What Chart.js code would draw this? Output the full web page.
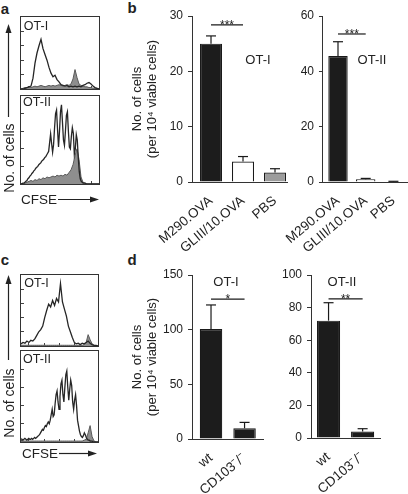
<!DOCTYPE html>
<html><head><meta charset="utf-8">
<script src="https://cdn.jsdelivr.net/npm/chart.js@4.4.1/dist/chart.umd.min.js"></script>
<style>
html,body{margin:0;padding:0;background:#fff;}
body{width:408px;height:494px;position:relative;overflow:hidden;font-family:"Liberation Sans",Arial,Helvetica,sans-serif;color:#222;}
.box{position:absolute;border:1px solid #333;box-sizing:border-box;}
.box canvas{position:absolute;left:0;top:0;}
.lbl{position:absolute;transform:translate(-50%,-50%);white-space:nowrap;line-height:1;}
.rot{position:absolute;transform:translate(-50%,-50%) rotate(-90deg);white-space:nowrap;line-height:1;}
.cv{position:absolute;}
svg{position:absolute;left:0;top:0;}
</style></head><body>

<div class="lbl" style="left:5px;top:8px;font-weight:bold;font-size:15px;">a</div>
<div class="lbl" style="left:132px;top:7px;font-weight:bold;font-size:15px;">b</div>
<div class="lbl" style="left:5px;top:259px;font-weight:bold;font-size:15px;">c</div>
<div class="lbl" style="left:132px;top:259px;font-weight:bold;font-size:15px;">d</div>

<div class="box" style="left:20px;top:16px;width:80px;height:74px;"><canvas id="aTop" width="78" height="72"></canvas></div>
<div class="box" style="left:20px;top:95px;width:80px;height:90px;"><canvas id="aBot" width="78" height="88"></canvas></div>
<div class="box" style="left:20px;top:274px;width:79px;height:73px;"><canvas id="cTop" width="77" height="71"></canvas></div>
<div class="box" style="left:20px;top:350px;width:79px;height:93px;"><canvas id="cBot" width="77" height="91"></canvas></div>

<div class="lbl" style="left:36px;top:25.5px;font-size:12.5px;">OT-I</div>
<div class="lbl" style="left:37px;top:102px;font-size:12.5px;">OT-II</div>
<div class="lbl" style="left:36.5px;top:282.5px;font-size:12.5px;">OT-I</div>
<div class="lbl" style="left:37px;top:358.5px;font-size:12.5px;">OT-II</div>

<div class="rot" style="left:8.5px;top:158px;font-size:14px;">No. of cells</div>
<div class="rot" style="left:8.5px;top:403px;font-size:14px;">No. of cells</div>
<div class="lbl" style="left:39px;top:199.5px;font-size:13.5px;">CFSE</div>
<div class="lbl" style="left:40px;top:453.5px;font-size:13.5px;">CFSE</div>

<svg width="408" height="494">
  <g stroke="#222" stroke-width="1.2" fill="#222">
    <line x1="8.5" y1="32" x2="8.5" y2="117"/>
    <polygon points="8.5,24 5.5,33 11.5,33" stroke="none"/>
    <line x1="58" y1="199.5" x2="91" y2="199.5"/>
    <polygon points="99,199.5 90,196.5 90,202.5" stroke="none"/>
    <line x1="8.5" y1="283" x2="8.5" y2="360"/>
    <polygon points="8.5,275 5.5,284 11.5,284" stroke="none"/>
    <line x1="59" y1="453.5" x2="89" y2="453.5"/>
    <polygon points="97,453.5 88,450.5 88,456.5" stroke="none"/>
  </g>
</svg>

<canvas class="cv" id="b1" width="163" height="258" style="left:127px;top:0px;"></canvas>
<canvas class="cv" id="b2" width="128" height="258" style="left:280px;top:0px;"></canvas>
<canvas class="cv" id="d1" width="150" height="232" style="left:127px;top:262px;"></canvas>
<canvas class="cv" id="d2" width="130" height="232" style="left:278px;top:262px;"></canvas>

<div class="lbl" style="left:258px;top:59px;font-size:13px;">OT-I</div>
<div class="lbl" style="left:372px;top:59px;font-size:13px;">OT-II</div>
<div class="lbl" style="left:226px;top:281px;font-size:13px;">OT-I</div>
<div class="lbl" style="left:342px;top:281px;font-size:13px;">OT-II</div>

<script>
// ---------- data ----------
// panel a/c histograms (fraction of box height), open = stimulated, shaded = control
const aOT1Open = [0,0,0.01,0.02,0.03,0.04,0.15,0.36,0.50,0.60,0.69,0.56,0.48,0.40,0.30,0.22,0.17,0.19,0.13,0.10,0.06,0.05,0.04,0.05,0.03,0.04,0.03,0.04,0.03,0.04,0.03,0.05,0.06,0.08,0.09,0.07,0.04,0.02,0.01,0];
const aOT1Shaded = [0,0.01,0.02,0.02,0.03,0.02,0.03,0.04,0.03,0.04,0.05,0.04,0.03,0.04,0.05,0.04,0.05,0.04,0.05,0.06,0.05,0.04,0.05,0.06,0.05,0.07,0.14,0.27,0.16,0.07,0.05,0.04,0.03,0.03,0.02,0.02,0.01,0.01,0.01,0];
const aOT2Open = [0,0,0.01,0.01,0.02,0.03,0.04,0.06,0.07,0.09,
  0.10,0.12,0.13,0.15,0.16,0.18,0.19,0.20,0.22,0.23,
  0.24,0.26,0.27,0.28,0.30,0.31,0.33,0.35,0.37,0.47,
  0.57,0.46,0.36,0.45,0.64,0.80,0.84,0.62,0.42,0.60,
  0.82,0.90,0.70,0.50,0.44,0.60,0.78,0.82,0.60,0.42,
  0.40,0.54,0.64,0.58,0.34,0.40,0.56,0.50,0.30,0.14,
  0.06,0.03,0.02,0.01,0.01,0.01,0,0,0,0,
  0,0,0,0,0,0,0,0,0,0];
const aOT2Shaded = [0,0,0.01,0.02,0.03,0.04,0.03,0.05,0.04,0.06,0.05,0.07,0.06,0.08,0.07,0.08,0.09,0.08,0.10,0.09,0.10,0.09,0.11,0.10,0.13,0.16,0.22,0.32,0.40,0.28,0.08,0.02,0.01,0,0,0,0,0,0,0];
const cOT1Open = [0.03,0.05,0.04,0.07,0.05,0.08,0.07,0.10,0.15,0.20,0.23,0.28,0.40,0.50,0.59,0.55,0.64,0.57,0.67,0.62,0.88,0.62,0.52,0.42,0.28,0.20,0.12,0.05,0.03,0.04,0.02,0.04,0.03,0.05,0.07,0.04,0.02,0.01,0.01,0];
const cOT1Shaded = [0.01,0.01,0.01,0.01,0.01,0.01,0.01,0.01,0.01,0.01,0.01,0.01,0.01,0.01,0.01,0.01,0.01,0.01,0.01,0.01,0.01,0.01,0.01,0.01,0.01,0.01,0.01,0.01,0.01,0.01,0.01,0.01,0.02,0.05,0.16,0.09,0.03,0.01,0,0];
const cOT2Open = [0.02,0.03,0.02,0.03,0.04,0.03,0.02,0.03,0.04,0.03,
  0.03,0.04,0.03,0.04,0.05,0.04,0.05,0.06,0.07,0.08,
  0.10,0.12,0.14,0.13,0.16,0.18,0.17,0.20,0.22,0.20,
  0.24,0.30,0.36,0.28,0.30,0.42,0.52,0.56,0.44,0.36,
  0.50,0.64,0.68,0.52,0.44,0.60,0.74,0.78,0.60,0.46,
  0.58,0.68,0.62,0.44,0.36,0.46,0.52,0.40,0.24,0.18,
  0.12,0.08,0.06,0.05,0.07,0.10,0.08,0.05,0.03,0.02,
  0.02,0.01,0.01,0.01,0,0,0,0,0,0];
const cOT2Shaded = [0.01,0.01,0.01,0.01,0.01,0.01,0.01,0.01,0.01,0.01,0.01,0.01,0.01,0.01,0.01,0.01,0.01,0.01,0.01,0.01,0.01,0.01,0.01,0.01,0.01,0.01,0.01,0.01,0.01,0.01,0.01,0.01,0.02,0.03,0.10,0.18,0.06,0.01,0,0];
// minor tick positions on the histogram frames (fraction of axis)
const histXTicks = [0.1, 0.3, 0.5, 0.7, 0.9];
const histYTicks = [0.2, 0.4, 0.6, 0.8];

// panel b
const bCategories = ['M290.OVA', 'GLIII/10.OVA', 'PBS'];
const bOT1Values = [25.0, 3.7, 1.7];
const bOT1Errors = [26.4, 4.6, 2.4];
const bOT2Values = [45.5, 1.0, 0.15];
const bOT2Errors = [50.7, 1.3, 0.25];
const bColors = ['#1c1c1c', '#ffffff', '#9c9c9c'];
const bOT1Ticks = [0, 10, 20, 30];
const bOT2Ticks = [0, 20, 40, 60];
// panel d
const dCategories = ['wt', 'CD103\u207B/\u207B'];
const dOT1Values = [100.5, 9.8];
const dOT1Errors = [122.6, 15.2];
const dOT2Values = [72.0, 4.0];
const dOT2Errors = [83.0, 5.7];
const dColors = ['#1c1c1c', '#1c1c1c'];
const dOT1Ticks = [0, 50, 100, 150];
const dOT2Ticks = [0, 20, 40, 60, 80, 100];

const yTitle = ['No. of cells', '(per 10\u2074 viable cells)'];

// ---------- charts ----------
Chart.defaults.font.family = '"Liberation Sans", Arial, Helvetica, sans-serif';
Chart.defaults.color = '#222';

const annot = {
  id: 'annot',
  afterDatasetsDraw(chart, args, o) {
    const {ctx, scales: {x, y}} = chart;
    ctx.save();
    ctx.strokeStyle = '#1a1a1a';
    ctx.lineWidth = 1.2;
    const seg = (x1, y1, x2, y2) => { ctx.beginPath(); ctx.moveTo(x1, y1); ctx.lineTo(x2, y2); ctx.stroke(); };
    o.errs.forEach((e, i) => {
      const cx = x.getPixelForValue(i);
      const t = y.getPixelForValue(o.vals[i]);
      const ey = y.getPixelForValue(e);
      seg(cx, t, cx, ey);
      seg(cx - 5, ey, cx + 5, ey);
    });
    const sy = y.getPixelForValue(o.sig.y);
    const x1 = x.getPixelForValue(o.sig.from), x2 = x.getPixelForValue(o.sig.to);
    seg(x1, sy, x2, sy);
    ctx.fillStyle = '#222';
    ctx.font = '12px "Liberation Sans", Arial, sans-serif';
    ctx.textAlign = 'center';
    ctx.textBaseline = 'alphabetic';
    ctx.fillText(o.sig.text, (x1 + x2) / 2, sy + 4);
    ctx.restore();
  }
};

function barChart(id, cats, vals, errs, colors, yMax, yTicks, xMin, xMax, pad, yWidth, xHeight, barPct, sig, showTitle) {
  new Chart(document.getElementById(id), {
    type: 'bar',
    data: {datasets: [{
      data: vals.map((v, i) => ({x: i, y: v})),
      backgroundColor: colors, borderColor: '#1a1a1a', borderWidth: 1.2,
      barPercentage: barPct, categoryPercentage: 1
    }]},
    options: {
      responsive: false, animation: false, events: [],
      layout: {padding: pad},
      plugins: {legend: {display: false}, tooltip: {enabled: false}, annot: {vals, errs, sig}},
      scales: {
        x: {type: 'linear', min: xMin, max: xMax, offset: false,
            grid: {display: false}, border: {display: true, color: '#333', width: 1},
            afterBuildTicks: (s) => { s.ticks = cats.map((c, i) => ({value: i})); },
            ticks: {autoSkip: false, minRotation: 40, maxRotation: 40, padding: 3, font: {size: 13.5}, color: '#222',
                    callback: (v) => cats[v]},
            afterFit: (s) => { s.height = xHeight; }},
        y: {min: 0, max: yMax,
            afterBuildTicks: (s) => { s.ticks = yTicks.map(v => ({value: v})); },
            grid: {display: true, drawOnChartArea: false, drawTicks: true, tickLength: 4, color: '#333'},
            border: {display: true, color: '#333', width: 1},
            ticks: {font: {size: 12}, color: '#222', padding: 5},
            title: {display: showTitle, text: yTitle, font: {size: 13, lineHeight: 1.1}, color: '#222', padding: {top: 3.5, bottom: 0}},
            afterFit: (s) => { s.width = yWidth; }}
      }
    },
    plugins: [annot]
  });
}

function histChart(id, open, shaded) {
  const pts = arr => arr.map((v, i) => ({x: i / (arr.length - 1), y: v}));
  const innerTicks = (list) => ({
    display: true,
    ticks: {display: false},
    grid: {display: true, drawOnChartArea: false, drawTicks: true, tickLength: -3, color: '#444', lineWidth: 1},
    border: {display: false},
    afterBuildTicks: (s) => { s.ticks = list.map(v => ({value: v})); }
  });
  new Chart(document.getElementById(id), {
    type: 'line',
    data: {datasets: [
      {data: pts(open), borderColor: '#262626', borderWidth: 1.3, fill: false, pointRadius: 0, tension: 0, order: 0},
      {data: pts(shaded), borderColor: '#5a5a5a', backgroundColor: '#8e8e8e', borderWidth: 1, fill: 'origin', pointRadius: 0, tension: 0, order: 1}
    ]},
    options: {
      responsive: false, animation: false, events: [],
      layout: {padding: 0},
      plugins: {legend: {display: false}, tooltip: {enabled: false}},
      scales: {
        x: Object.assign({type: 'linear', min: 0, max: 1, afterFit: (s) => { s.height = 0; }}, innerTicks(histXTicks)),
        y: Object.assign({min: 0, max: 1, afterFit: (s) => { s.width = 0; }}, innerTicks(histYTicks))
      }
    }
  });
}

histChart('aTop', aOT1Open, aOT1Shaded);
histChart('aBot', aOT2Open, aOT2Shaded);
histChart('cTop', cOT1Open, cOT1Shaded);
histChart('cBot', cOT2Open, cOT2Shaded);

barChart('b1', bCategories, bOT1Values, bOT1Errors, bColors, 30, bOT1Ticks, -0.594, 2.375,
  {top: 16, right: 3, left: 0, bottom: 0}, 65, 76, 0.69, {from: 0, to: 1, y: 28.4, text: '***'}, true);
barChart('b2', bCategories, bOT2Values, bOT2Errors, bColors, 60, bOT2Ticks, -0.542, 2.49,
  {top: 16, right: 1, left: 0, bottom: 0}, 29, 76, 0.70, {from: 0, to: 1, y: 53.5, text: '***'}, false);
barChart('d1', dCategories, dOT1Values, dOT1Errors, dColors, 150, dOT1Ticks, -0.567, 1.55,
  {top: 13, right: 14, left: 0, bottom: 0}, 65, 55, 0.67, {from: 0, to: 1, y: 128, text: '*'}, true);
barChart('d2', dCategories, dOT2Values, dOT2Errors, dColors, 100, dOT2Ticks, -0.515, 1.51,
  {top: 13, right: 28, left: 0, bottom: 0}, 33, 56, 0.68, {from: 0, to: 1, y: 85.3, text: '**'}, false);
</script>
</body></html>
